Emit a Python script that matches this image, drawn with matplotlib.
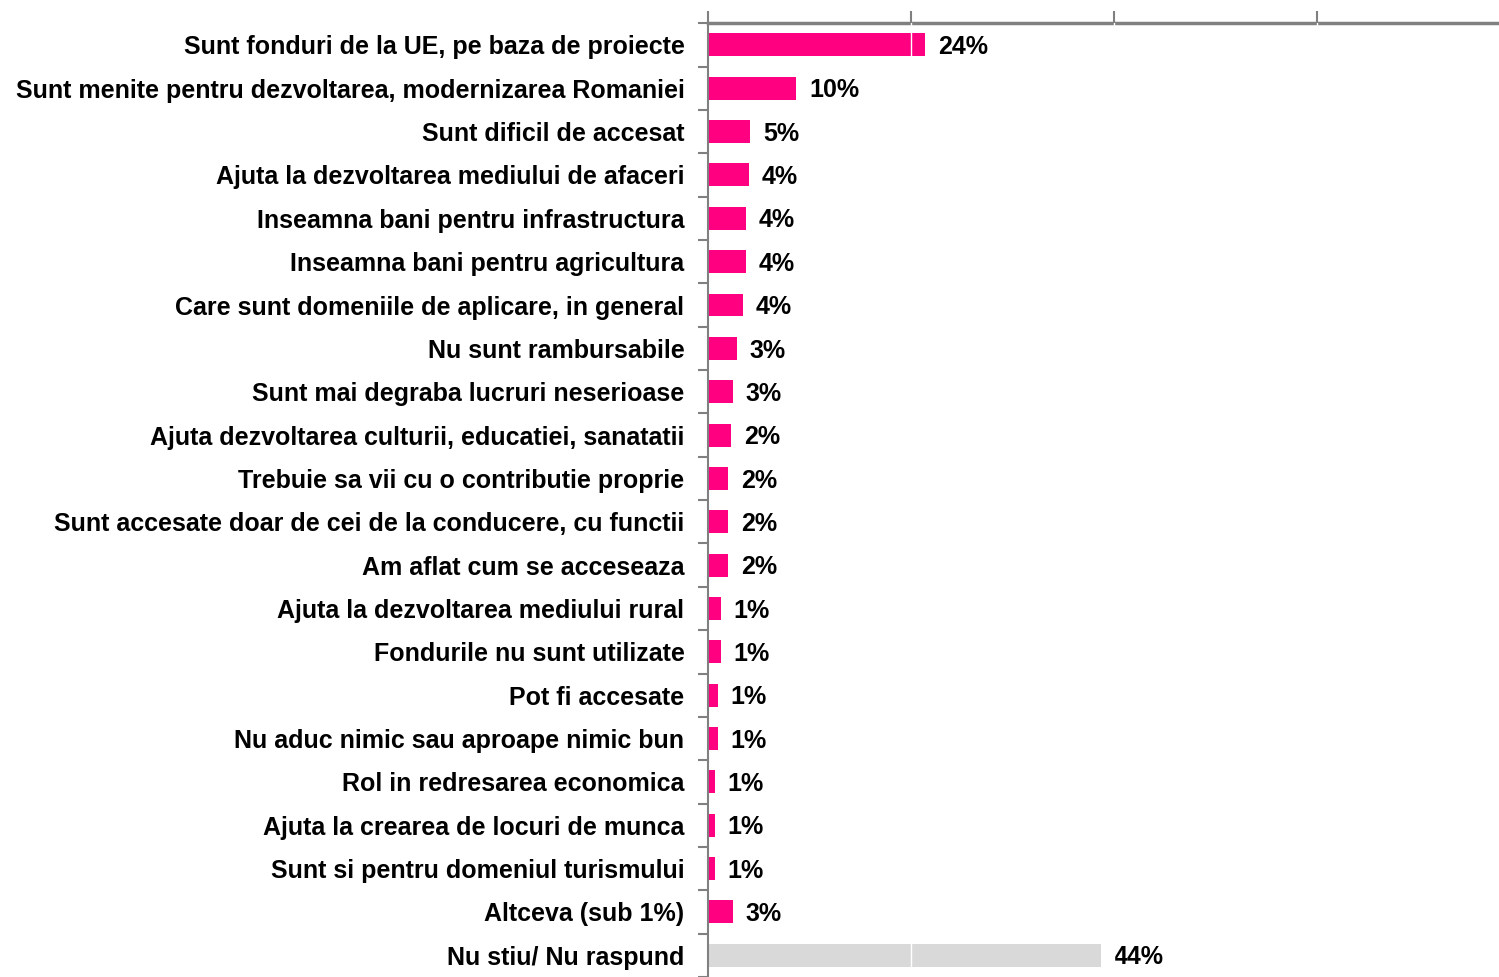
import matplotlib
matplotlib.use("Agg")
import matplotlib.pyplot as plt
from matplotlib import font_manager

categories = [
    "Sunt fonduri de la UE, pe baza de proiecte",
    "Sunt menite pentru dezvoltarea, modernizarea Romaniei",
    "Sunt dificil de accesat",
    "Ajuta la dezvoltarea mediului de afaceri",
    "Inseamna bani pentru infrastructura",
    "Inseamna bani pentru agricultura",
    "Care sunt domeniile de aplicare, in general",
    "Nu sunt rambursabile",
    "Sunt mai degraba lucruri neserioase",
    "Ajuta dezvoltarea culturii, educatiei, sanatatii",
    "Trebuie sa vii cu o contributie proprie",
    "Sunt accesate doar de cei de la conducere, cu functii",
    "Am aflat cum se acceseaza",
    "Ajuta la dezvoltarea mediului rural",
    "Fondurile nu sunt utilizate",
    "Pot fi accesate",
    "Nu aduc nimic sau aproape nimic bun",
    "Rol in redresarea economica",
    "Ajuta la crearea de locuri de munca",
    "Sunt si pentru domeniul turismului",
    "Altceva (sub 1%)",
    "Nu stiu/ Nu raspund",
]
values = [24.1, 9.8, 4.7, 4.55, 4.25, 4.25, 3.9, 3.25, 2.8, 2.55, 2.25, 2.25,
          2.25, 1.4, 1.4, 1.1, 1.1, 0.8, 0.8, 0.8, 2.8, 43.6]
value_labels = ["24%", "10%", "5%", "4%", "4%", "4%", "4%", "3%", "3%", "2%", "2%",
                "2%", "2%", "1%", "1%", "1%", "1%", "1%", "1%", "1%", "3%", "44%"]
colors = ["#FF0080"] * 21 + ["#D9D9D9"]

names = {f.name for f in font_manager.fontManager.ttflist}
fam = "Liberation Sans Narrow" if "Liberation Sans Narrow" in names else "Liberation Sans"
plt.rcParams["font.family"] = [fam, "DejaVu Sans"]

fig = plt.figure(figsize=(14.99, 9.77), dpi=100)
ax = fig.add_axes([708 / 1499, 0, 1 - 708 / 1499, 1 - 23.2 / 977])

y = list(range(len(categories)))
ax.barh(y, values, height=0.53, color=colors, zorder=2)
for yi, v, lab in zip(y, values, value_labels):
    ax.text(v + 1.4, yi + 0.05, lab, va="center", ha="left", fontsize=18,
            fontweight="bold", color="black")

ax.set_xlim(0, (1499 - 708) / 9.02)
ax.set_ylim(21.39, -0.5)

ax.xaxis.tick_top()
ax.set_xticks([0, 22.5, 45, 67.5])
ax.set_xticklabels([])
ax.tick_params(axis="x", direction="out", length=9, width=1.5, color="#808080")
for xt in [22.5, 45, 67.5]:
    ax.axvline(xt, color="white", lw=1, zorder=3)

ax.set_yticks(y)
ax.set_yticklabels(categories, fontsize=18, fontweight="bold")
ax.set_yticks([i + 0.5 for i in range(-1, len(categories))], minor=True)
ax.tick_params(axis="y", which="major", length=0, pad=17)
ax.tick_params(axis="y", which="minor", direction="out", length=7, width=1.5,
               color="#808080")

for s in ["right", "bottom"]:
    ax.spines[s].set_visible(False)
ax.spines["top"].set_color("#808080")
ax.spines["top"].set_linewidth(2.5)
ax.spines["left"].set_color("#808080")
ax.spines["left"].set_linewidth(1.5)

fig.savefig("out.png", dpi=100)
